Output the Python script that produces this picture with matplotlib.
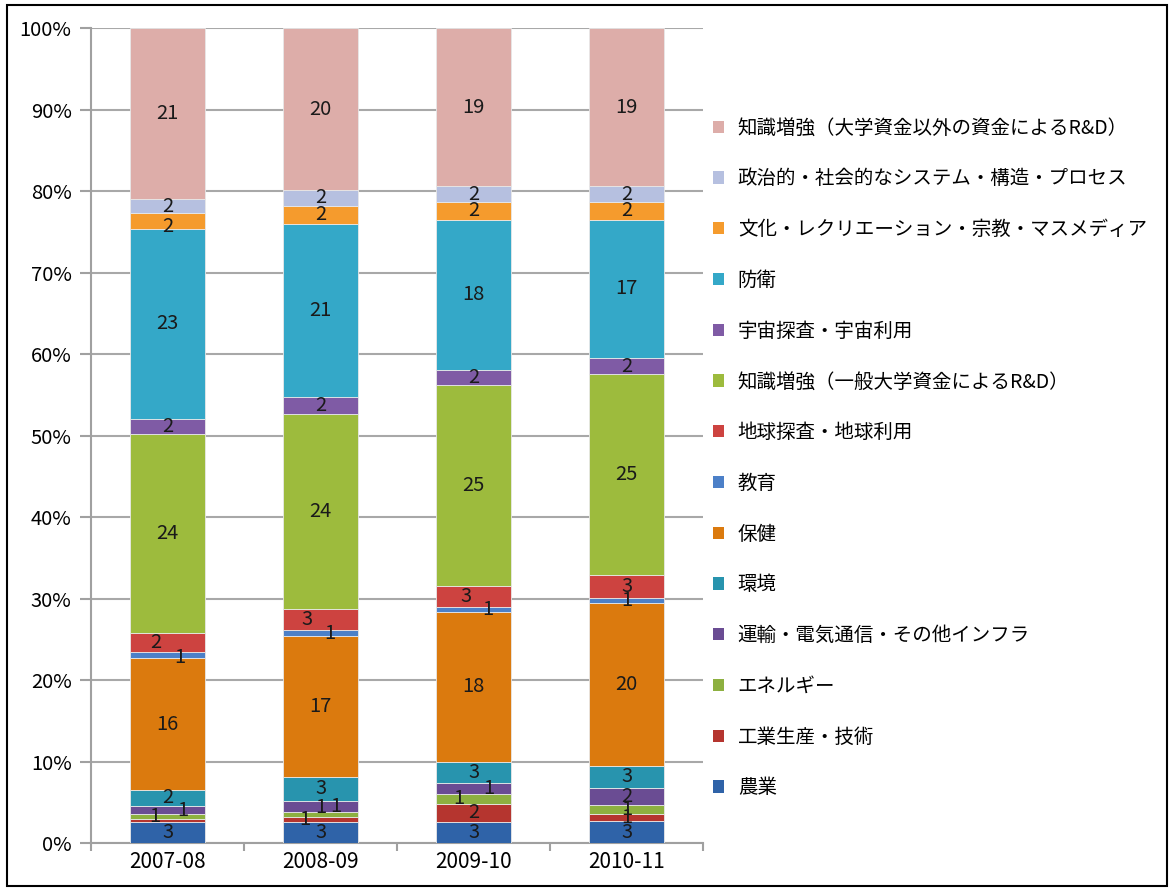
import matplotlib
matplotlib.use("Agg")
import matplotlib.pyplot as plt
from matplotlib.patches import Rectangle, Patch
import numpy as np

plt.rcParams['font.family'] = ['Noto Sans CJK JP', 'DejaVu Sans']

years = ["2007-08", "2008-09", "2009-10", "2010-11"]

# bottom to top
series = [
    "農業",
    "工業生産・技術",
    "エネルギー",
    "運輸・電気通信・その他インフラ",
    "環境",
    "保健",
    "教育",
    "地球探査・地球利用",
    "知識増強（一般大学資金によるR&D）",
    "宇宙探査・宇宙利用",
    "防衛",
    "文化・レクリエーション・宗教・マスメディア",
    "政治的・社会的なシステム・構造・プロセス",
    "知識増強（大学資金以外の資金によるR&D）",
]

agri = [2.6, 2.6, 2.6, 2.7]
industry = [0.3, 0.6, 2.2, 0.9]
energy = [0.6, 0.6, 1.2, 1.1]
transport = [1.1, 1.4, 1.4, 2.0]
environment = [1.9, 2.9, 2.6, 2.8]
health = [16.2, 17.3, 18.3, 20.0]
education = [0.7, 0.7, 0.6, 0.6]
earth = [2.4, 2.6, 2.6, 2.8]
know_univ = [24.4, 23.9, 24.7, 24.6]
space = [1.8, 2.1, 1.9, 2.0]
defence = [23.4, 21.3, 18.4, 17.0]
culture = [1.9, 2.2, 2.1, 2.1]
political = [1.7, 1.9, 2.0, 2.0]
know_other = [21.0, 19.9, 19.4, 19.4]

values = [agri, industry, energy, transport, environment, health, education,
          earth, know_univ, space, defence, culture, political, know_other]

colors = ["#2F63A8", "#B5352F", "#8DB040", "#6A4C93", "#2894AE", "#DB7A0E",
          "#4C80C8", "#CD4340", "#9DBB3D", "#7F5BA5", "#34A8C8", "#F59B2D",
          "#B6C0E0", "#DDADA9"]

# label nudges (dx in category units, dy in %) keyed by (series, bar)
nudge = {
    (2, 0): (-0.085, 0), (3, 0): (0.1, 0), (6, 0): (0.08, -0.3),
    (7, 0): (-0.08, 0), (11, 0): (0, -0.7),
    (1, 1): (-0.1, 0), (2, 1): (0, 0.8), (3, 1): (0.1, 0),
    (6, 1): (0.06, 0), (7, 1): (-0.09, 0),
    (2, 2): (-0.1, 0), (3, 2): (0.1, 0), (6, 2): (0.09, 0), (7, 2): (-0.05, 0),
}

fig = plt.figure(figsize=(11.74, 8.90), dpi=100)
ax = fig.add_axes([0.0775, 0.0528, 0.5215, 0.9157])

x = np.arange(len(years))
bottom = np.zeros(len(years))
for i, (name, vals) in enumerate(zip(series, values)):
    vals = np.array(vals)
    ax.bar(x, vals, 0.49, bottom=bottom, color=colors[i],
           edgecolor="#E8E8E8", linewidth=0.6, zorder=3)
    for j, v in enumerate(vals):
        lab = int(round(v))
        if lab == 0:
            continue
        dx, dy = nudge.get((i, j), (0, 0))
        ax.text(x[j] + dx, bottom[j] + v / 2 + dy, str(lab), ha="center",
                va="center", fontsize=14.5, color="#1A1A1A", zorder=4)
    bottom += vals

ax.set_xlim(-0.5, 3.5)
ax.set_ylim(0, 100)
ax.set_yticks(np.arange(0, 101, 10))
ax.set_yticklabels([f"{v}%" for v in range(0, 101, 10)], fontsize=14.5)
ax.set_xticks(x)
ax.set_xticklabels(years, fontsize=15)
ax.set_xticks(np.arange(-0.5, 3.6, 1), minor=True)
ax.tick_params(axis="x", which="major", length=0, pad=6)
ax.tick_params(axis="x", which="minor", length=6, color="#A0A0A0", width=1.5)
ax.tick_params(axis="y", length=8, color="#A0A0A0", width=1.5, pad=6)
ax.yaxis.grid(True, color="#A8A8A8", linewidth=1.5, zorder=0)
ax.set_axisbelow(True)
for s in ["top", "right"]:
    ax.spines[s].set_visible(False)
for s in ["left", "bottom"]:
    ax.spines[s].set_color("#A0A0A0")
    ax.spines[s].set_linewidth(1.5)

handles = [Patch(facecolor=colors[i], edgecolor="none") for i in range(len(series))][::-1]
leg = fig.legend(handles, series[::-1], loc="center left",
                 bbox_to_anchor=(0.592, 0.4854), frameon=False, fontsize=14,
                 handlelength=0.6, handleheight=0.6, handletextpad=0.7,
                 labelspacing=1.53)

fig.add_artist(Rectangle((0.006, 0.005), 0.988, 0.989, transform=fig.transFigure,
                         fill=False, edgecolor="black", linewidth=1.5))

fig.savefig("out.png", dpi=100)
